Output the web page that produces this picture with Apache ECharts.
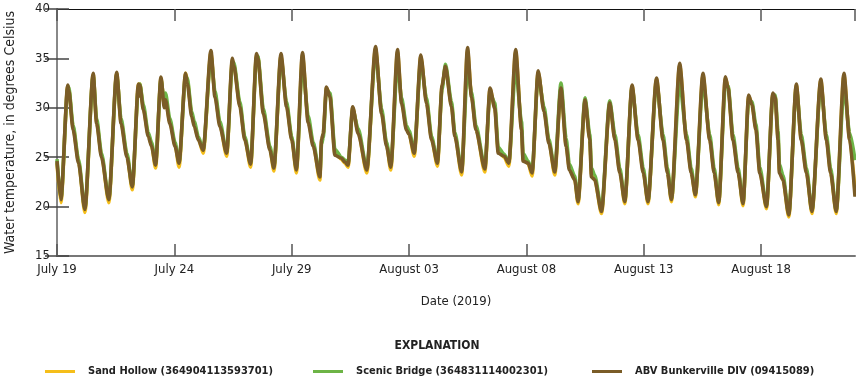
<!DOCTYPE html>
<html>
<head>
<meta charset="utf-8">
<script src="https://cdn.jsdelivr.net/npm/echarts@6/dist/echarts.min.js"></script>
<style>
html,body{margin:0;padding:0;background:#fff;}
#c{width:856px;height:380px;}
</style>
</head>
<body>
<div id="c"></div>
<script>
// hours since 2019-07-19 00:00
const hours = [0,4,11,12,16.5,22,28.5,37,40.5,45.5,53,61,65.5,71.5,77,83.3,84,84.7,88.3,93.3,96.7,100.8,106.3,109.7,110.9,115.4,120.7,124.8,131.5,133.2,137.8,140.4,144.5,149.5,157.4,161.5,166.6,173.5,179.3,180.7,187,192,198,204,205.4,211,217.7,221.8,229,234.7,240,244.8,251,256.8,262,268.8,270.5,272.2,275.5,279.1,284.2,290.9,294.5,297.6,302.4,307.9,316.8,325.7,331.9,337,341.3,348.2,352.3,357.4,360,365.3,372,377.8,383,389,393.8,397.2,403.4,406.8,413.8,419.8,423.8,428.4,437.5,442.8,447.6,451.2,457.2,462,469,475,476.6,481.7,485.8,492,498,503,509,515.3,520.6,523.9,529.4,532.8,540,544.8,546.5,549.8,556.8,565.2,570.5,575.5,580.6,588,594.2,599.5,604.3,613,619.7,624.2,628.3,636.7,643.7,648.5,652.8,660.5,667.4,672,676.6,683.5,686.2,691.2,696.5,701.5,707.3,710.6,714.7,718.6,725.5,732,734.4,737.3,738.7,742.3,748.3,756,761,766.3,772,781,786.7,791,796.8,804.7,810.5,816];

const abvBunkerville = [24.6,20.7,32.3,31.8,27.75,24.4,19.7,33.5,28.4,25.0,20.7,33.6,28.4,25.0,22.0,32.4,31.2,32.3,29.8,27.1,26.1,24.2,33.1,30.0,30.8,28.4,26.1,24.4,33.5,32.5,29.1,28.1,26.75,25.7,35.8,31.1,28.1,25.4,35.0,34.3,30.1,26.75,24.3,35.5,35.0,29.4,25.7,23.9,35.5,30.1,26.75,23.7,35.6,28.5,26.1,23.0,26.75,27.4,32.1,31.1,25.2,24.9,24.5,24.2,30.1,27.4,23.7,36.2,29.4,26.1,24.0,35.9,30.45,27.75,27.3,25.4,35.35,30.45,26.75,24.4,32.3,34.2,30.1,27.1,23.5,36.1,31.1,27.75,23.8,32.0,29.95,25.4,25.1,24.4,35.9,27.75,24.6,24.4,23.4,33.75,29.6,26.4,23.5,32.0,26.1,23.7,22.7,20.5,30.8,26.75,23.0,22.7,19.5,30.5,26.75,23.4,20.5,32.3,26.75,23.4,20.5,33.0,26.75,23.4,20.7,34.5,26.75,23.4,21.2,33.5,26.75,23.4,20.4,33.15,32.0,26.75,23.4,20.3,31.3,30.3,27.75,23.4,20.0,31.5,31.0,26.75,23.4,22.7,19.15,32.4,26.75,23.4,19.5,32.9,26.75,23.4,19.5,33.5,26.75,21.0];

const sandHollow = [24.4,20.4,32.2,31.9,28.0,24.6,19.4,33.4,28.6,25.2,20.4,33.5,28.6,25.2,21.7,32.4,31.5,32.4,30.0,27.3,26.2,23.9,33.0,30.3,30.9,28.6,26.3,24.0,33.5,32.8,29.3,28.3,26.9,25.4,35.6,31.4,28.3,25.1,34.8,34.4,30.3,26.9,24.0,35.3,35.1,29.6,25.9,23.6,35.3,30.3,26.9,23.4,35.3,28.8,26.3,22.7,26.6,27.3,32.0,31.3,25.4,24.8,24.4,24.0,30.0,27.6,23.4,36.0,29.6,26.3,23.7,35.6,30.7,27.9,27.4,25.1,35.2,30.7,26.9,24.1,32.2,34.1,30.3,27.3,23.2,35.8,31.3,27.9,23.5,31.9,30.1,25.6,25.0,24.1,35.7,28.0,24.8,24.4,23.1,33.6,29.8,26.6,23.2,31.9,26.3,23.9,22.8,20.3,30.7,26.9,23.3,22.8,19.3,30.4,26.9,23.6,20.3,32.2,26.9,23.6,20.3,32.9,26.9,23.6,20.5,34.3,26.9,23.6,21.0,33.3,26.9,23.6,20.2,33.0,32.1,26.9,23.6,20.1,31.2,30.4,27.9,23.6,19.8,31.4,31.1,27.0,23.7,22.8,18.95,32.3,26.9,23.6,19.3,32.8,26.9,23.6,19.3,33.3,26.9,21.5];

const scenicBridge = [24.8,20.8,32.0,32.1,28.2,24.8,19.8,33.2,28.9,25.4,20.8,33.3,28.9,25.4,22.1,32.0,31.6,32.4,30.3,27.5,26.5,24.4,32.8,30.6,31.5,28.9,26.5,24.5,33.2,33.0,29.6,28.6,27.1,25.8,35.2,31.7,28.6,25.5,34.4,34.6,30.6,27.1,24.4,35.0,35.2,29.9,26.1,24.1,35.0,30.6,27.1,23.9,34.5,29.2,26.5,23.2,26.3,27.0,31.8,31.5,25.8,25.0,24.7,24.4,29.8,27.9,23.9,35.6,29.9,26.5,24.2,34.4,31.0,28.2,27.7,25.6,34.7,31.0,27.1,24.6,31.9,34.4,30.6,27.5,23.7,34.0,31.6,28.2,24.0,31.5,30.5,26.0,25.3,24.5,34.0,28.6,25.4,24.6,23.6,33.3,30.1,26.8,23.7,32.5,26.9,24.3,23.1,20.7,31.0,27.3,23.9,23.2,19.7,30.7,27.3,23.9,20.6,32.0,27.3,23.9,20.6,32.6,27.3,23.9,20.8,32.5,27.3,23.9,21.3,32.6,27.3,23.9,20.5,32.3,32.2,27.3,23.9,20.4,30.8,30.6,28.3,24.0,20.1,31.2,31.3,27.6,24.3,23.2,19.3,32.0,27.3,23.9,19.6,32.4,27.3,23.9,19.6,32.0,27.5,24.7];

const xTickLabels = ['July 19','July 24','July 29','August 03','August 08','August 13','August 18'];
const yTicks = [15,20,25,30,35,40];
const seriesNames = ['Sand Hollow (364904113593701)','Scenic Bridge (364831114002301)','ABV Bunkerville DIV (09415089)'];
const colors = ['#F5BE1A','#6DB446','#7A5C27'];

const FONT = "'Liberation Sans Narrow','DejaVu Sans Condensed','Arial Narrow',sans-serif";
const pair = (vals) => hours.map((h,i) => [h, vals[i]]);

const chart = echarts.init(document.getElementById('c'), null, {renderer:'canvas'});
const lineSeries = (name, vals, color, z) => ({
  name, type:'line', data: pair(vals), showSymbol:false, symbol:'none',
  smooth:0.25, smoothMonotone:'x',
  lineStyle:{color, width:3.6}, itemStyle:{color}, z, animation:false
});
const legendText = {fontFamily:FONT, fontSize:11, fontWeight:'bold', color:'#222', padding:[0,0,0,8]};

chart.setOption({
  animation:false,
  title:{text:'EXPLANATION', left:437, top:340, textAlign:'center', padding:0,
    textStyle:{fontFamily:FONT, fontSize:12, fontWeight:'bold', color:'#222'}},
  legend:[
    {data:[seriesNames[0]], left:45, top:366, padding:0, icon:'rect', itemWidth:30, itemHeight:3, textStyle:legendText},
    {data:[seriesNames[1]], left:313, top:366, padding:0, icon:'rect', itemWidth:30, itemHeight:3, textStyle:legendText},
    {data:[seriesNames[2]], left:592, top:366, padding:0, icon:'rect', itemWidth:30, itemHeight:3, textStyle:legendText}
  ],
  grid:{left:57, right:1, top:9, bottom:124, containLabel:false, outerBoundsMode:'none'},
  xAxis:[
    {type:'value', min:0, max:816, interval:120, position:'bottom',
      name:'Date (2019)', nameLocation:'middle', nameGap:39,
      nameTextStyle:{fontFamily:FONT, fontSize:13, color:'#222'},
      axisLine:{show:true, lineStyle:{color:'#777', width:2}},
      axisTick:{show:true, inside:true, length:12, lineStyle:{color:'#555', width:1.5}},
      axisLabel:{show:true, margin:7, fontFamily:FONT, fontSize:13, color:'#222', showMaxLabel:false,
        formatter:(v)=>{const k=Math.round(v/120); return (Math.abs(v-k*120)<1e-6 && xTickLabels[k])?xTickLabels[k]:'';}},
      splitLine:{show:false}},
    {type:'value', min:0, max:816, interval:120, position:'top',
      axisLine:{show:true, lineStyle:{color:'#111', width:1}},
      axisTick:{show:true, inside:true, length:12, lineStyle:{color:'#555', width:1.5}},
      axisLabel:{show:false}, splitLine:{show:false}}
  ],
  yAxis:[
    {type:'value', min:15, max:40, interval:5, position:'left',
      name:'Water temperature, in degrees Celsius', nameLocation:'middle', nameGap:40,
      nameTextStyle:{fontFamily:FONT, fontSize:14, color:'#222'},
      axisLine:{show:true, lineStyle:{color:'#111', width:1}},
      axisTick:{show:true, inside:true, length:12, lineStyle:{color:'#444', width:1.5}},
      axisLabel:{margin:7, fontFamily:FONT, fontSize:13, color:'#222', formatter:(v)=>yTicks.includes(v)?String(v):''},
      splitLine:{show:false}},
    {type:'value', min:15, max:40, interval:5, position:'right',
      axisLine:{show:true, lineStyle:{color:'#888', width:2}},
      axisTick:{show:true, inside:true, length:12, lineStyle:{color:'#444', width:1.5}},
      axisLabel:{show:false}, splitLine:{show:false}}
  ],
  series:[
    lineSeries(seriesNames[0], sandHollow, colors[0], 2),
    lineSeries(seriesNames[1], scenicBridge, colors[1], 3),
    lineSeries(seriesNames[2], abvBunkerville, colors[2], 4)
  ]
});
</script>
</body>
</html>
